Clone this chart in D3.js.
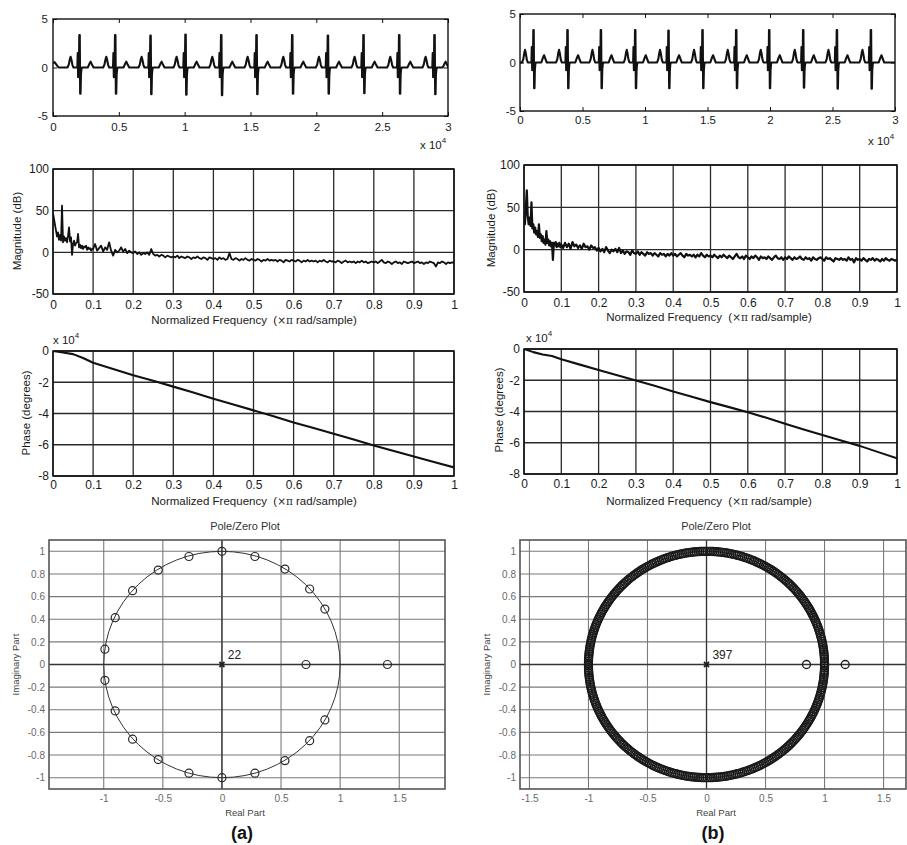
<!DOCTYPE html>
<html><head><meta charset="utf-8">
<script src="https://cdn.jsdelivr.net/npm/d3@7"></script>
<style>
body{margin:0;background:#fff}
svg{display:block}
text{font-family:"Liberation Sans",Arial,Helvetica,sans-serif;fill:#1a1a1a}
</style>
</head><body>
<svg id="c" width="907" height="845"></svg>
<script>
// ---------------- DATA ----------------
// ECG beat template (sample offsets from R peak) and template values; 'R' / 'S' are per-beat peak / trough
const beatOffsets = [-900,-800,-720,-660,-600,-520,-440,-150,-120,-90,-60,-30,0,35,65,95,125,160,200,640,760,860,960,1080];
const beatValsA  = [0,0.3,0.85,1.1,0.8,0.25,0, 0,1.5,-1.0,-0.4,-0.1,'R','R','S','S',-0.7,-0.2,0, 0,0.35,0.6,0.3,0];
const beatValsB  = [0,0.35,1.0,1.3,0.95,0.3,0, 0,1.6,-0.8,-0.3,-0.6,'R','R','S','S',-0.8,-0.2,0, 0,0.45,0.75,0.4,0];
const rPosA = [1998,4709,7390,10048,12759,15441,18152,20863,23567,26278,28959];
const rAmpA = [3.35,3.35,3.3,3.4,3.35,3.35,3.35,3.3,3.35,3.35,3.35];
const sAmpA = [-2.7,-2.7,-2.75,-2.8,-2.85,-2.75,-2.7,-2.7,-2.65,-2.7,-2.75];
const leadA = [[0,0.45],[120,0.55],[260,0.3],[420,0]];
const tailA = [];
const rPosB = [1064,3784,6456,9200,11864,14584,17280,19920,22640,25336,28056];
const rAmpB = [3.35,3.35,3.35,3.35,3.3,3.35,3.35,3.35,3.35,3.35,3.35];
const sAmpB = [-2.65,-2.65,-2.65,-2.65,-2.65,-2.65,-2.65,-2.65,-2.6,-2.7,-2.7];
const leadB = [[0,0]];
const tailB = [[30000,0]];

// Magnitude (dB): low band 0..0.0975 step 0.0025, high band 0.1..1 step 0.005
const magLowStep = 0.0025, magHighStart = 0.1, magHighStep = 0.005;
const magLowA = [47,40,33,26,19,24,15,21,14,56,12,19,14,17,12,20,30,13,18,-3,10,14,8,11,12,22,6,9,5,8,4,7,6,8,3,6,4,5,2,4];
const magHighA = [
 4,10,2,5,8,1,6,3,12,2,
 -4,3,0,2,6,1,4,-1,2,0,
 -1,1,-2,0,-3,-1,-2,0,-3,4,
 -2,-4,-3,-5,-3,-4,-6,-4,-5,-6,
 -5,-6,-4,-7,-5,-6,-7,-5,-6,-8,
 -6,-7,-5,-7,-8,-6,-7,-9,-6,-7,
 -8,-7,-9,-6,-8,-7,-9,-8,-1,-8,
 -9,-7,-8,-10,-8,-9,-7,-9,-10,-8,
 -9,-10,-8,-9,-11,-9,-10,-8,-10,-9,
 -10,-9,-11,-9,-10,-12,-9,-10,-11,-9,
 -10,-11,-9,-10,-12,-10,-11,-9,-11,-10,
 -11,-10,-12,-10,-11,-9,-11,-12,-10,-11,
 -11,-12,-10,-11,-13,-11,-10,-12,-11,-12,
 -11,-13,-11,-12,-10,-12,-11,-13,-12,-11,
 -12,-11,-13,-11,-9,-12,-13,-11,-12,-14,
 -12,-11,-13,-12,-14,-11,-12,-13,-12,-11,
 -13,-12,-11,-13,-12,-14,-12,-13,-11,-12,
 -13,-17,-12,-13,-11,-12,-14,-12,-13,-12,
 -12.5];
const magLowB = [35,30,50,70,40,30,38,28,56,25,30,20,26,18,22,15,30,14,18,10,16,8,12,6,22,8,12,5,10,4,8,-12,8,5,9,3,7,4,8,3];
const magHighB = [
 6,2,8,3,7,1,9,4,6,2,
 5,1,7,3,4,0,5,2,3,-1,
 2,-2,1,-3,3,-1,-4,0,-2,1,
 -3,2,-4,-1,-5,-2,-3,-6,-1,-4,
 -5,-2,-6,-3,-5,-7,-3,-5,-4,-7,
 -4,-6,-8,-4,-6,-5,-8,-5,-7,-4,
 -7,-5,-8,-6,-4,-7,-9,-5,-7,-6,
 -8,-6,-9,-6,-8,-4,-7,-9,-6,-8,
 -7,-9,-6,-8,-10,-7,-9,-6,-8,-10,
 -7,-9,-11,-8,-5,-9,-10,-8,-11,-7,
 -9,-11,-8,-10,-7,-9,-12,-8,-10,-9,
 -11,-8,-10,-12,-9,-7,-10,-11,-9,-12,
 -9,-11,-8,-10,-12,-9,-11,-10,-8,-11,
 -12,-9,-11,-10,-13,-9,-11,-12,-10,-9,
 -11,-13,-9,-11,-10,-12,-14,-10,-11,-12,
 -10,-12,-11,-13,-9,-12,-11,-15,-10,-12,
 -11,-13,-10,-12,-14,-11,-12,-10,-13,-11,
 -12,-14,-11,-13,-10,-12,-13,-11,-12,-13,
 -11.5];

// Phase (degrees)
const phaseFreq = [0,0.025,0.05,0.075,0.1,0.15,0.2,0.25,0.3,0.35,0.4,0.45,0.5,0.55,0.6,0.65,0.7,0.75,0.8,0.85,0.9,0.95,1.0];
const phaseA = [0,-1000,-2000,-4500,-7500,-11500,-15500,-19000,-22800,-26500,-30500,-34200,-38000,-41800,-45700,-49300,-53000,-56700,-60500,-64000,-67500,-71000,-74500];
const phaseB = [0,-2000,-3500,-4500,-6500,-10000,-13500,-16800,-20200,-23500,-27200,-30500,-34000,-37200,-40500,-44000,-47800,-51500,-55000,-58500,-62000,-66000,-70000];

// Pole/zero (a): zeros [re, im]
const zerosA = [[0,1],[0.279,0.954],[0.533,0.843],[0.742,0.667],[0.871,0.49],
 [-0.279,0.954],[-0.539,0.834],[-0.756,0.652],[-0.903,0.414],[-0.99,0.135],
 [-0.99,-0.14],[-0.903,-0.41],[-0.756,-0.66],[-0.539,-0.84],[-0.279,-0.96],
 [0,-1],[0.279,-0.96],[0.533,-0.85],[0.742,-0.673],[0.871,-0.49],
 [0.711,0],[1.40,0]];
const polesA = 22;
// Pole/zero (b): upper-half angles (deg) of conjugate zero pairs on the unit circle + real zeros
const zeroAnglesB = [
 0.4,0.9,1.8,2.8,3.7,4.5,5.4,6.4,7.2,8.1,9.1,
 10.0,10.9,11.8,12.8,13.7,14.5,15.5,16.4,17.3,18.2,
 19.1,20.1,21.0,21.8,22.8,23.7,24.6,25.5,26.4,27.3,
 28.3,29.2,30.0,31.0,31.9,32.8,33.7,34.6,35.6,36.5,
 37.4,38.3,39.2,40.1,41.0,42.0,42.9,43.8,44.7,45.6,
 46.5,47.5,48.4,49.3,50.2,51.1,52.0,52.9,53.9,54.8,
 55.7,56.6,57.5,58.4,59.4,60.3,61.2,62.1,63.0,63.9,
 64.8,65.8,66.7,67.6,68.5,69.4,70.3,71.3,72.2,73.1,
 74.0,74.9,75.8,76.7,77.7,78.6,79.5,80.4,81.3,82.2,
 83.2,84.1,85.0,85.9,86.8,87.7,88.6,89.6,90.5,91.4,
 92.3,93.2,94.1,95.1,96.0,96.9,97.8,98.7,99.6,100.5,
 101.5,102.4,103.3,104.2,105.1,106.0,107.0,107.9,108.8,109.7,
 110.6,111.5,112.4,113.4,114.3,115.2,116.1,117.0,117.9,118.9,
 119.8,120.7,121.6,122.5,123.4,124.3,125.3,126.2,127.1,128.0,
 128.9,129.8,130.8,131.7,132.6,133.5,134.4,135.3,136.2,137.2,
 138.1,139.0,139.9,140.8,141.7,142.7,143.6,144.5,145.4,146.3,
 147.2,148.1,149.1,150.0,150.9,151.8,152.7,153.6,154.6,155.5,
 156.4,157.3,158.2,159.1,160.0,161.0,161.9,162.8,163.7,164.6,
 165.5,166.5,167.4,168.3,169.2,170.1,171.0,171.9,172.9,173.8,
 174.7,175.6,176.5,177.4,178.4,179.3];
const realZerosB = [0.847,1.175,-1.0];
const polesB = 397;

// Ticks
const ecgTicksX = [0,5000,10000,15000,20000,25000,30000];
const ecgTicksY = [-5,0,5];
const freqTicksX = [0,0.1,0.2,0.3,0.4,0.5,0.6,0.7,0.8,0.9,1];
const magTicksY = [-50,0,50,100];
const phaseTicksY = [-80000,-60000,-40000,-20000,0];
const pzTicksY = [-1,-0.8,-0.6,-0.4,-0.2,0,0.2,0.4,0.6,0.8,1];
const pzTicksXA = [-1,-0.5,0,0.5,1,1.5];
const pzTicksXB = [-1.5,-1,-0.5,0,0.5,1,1.5];

// ---------------- DRAW ----------------
const svg = d3.select('#c');
const num = v => String(+(+v).toFixed(6));
let clipN = 0;

function clip(box){
  const id = 'clip' + (clipN++);
  svg.append('clipPath').attr('id', id).append('rect')
    .attr('x', box.x0).attr('y', box.y0).attr('width', box.x1-box.x0).attr('height', box.y1-box.y0);
  return 'url(#' + id + ')';
}

function labelsAxes(g, x, y, box, xt, yt, xf, yf, fs, padX, padY, col){
  const ax = g.append('g').attr('transform', `translate(0,${box.y1})`)
    .call(d3.axisBottom(x).tickValues(xt).tickFormat(xf).tickSize(0).tickPadding(padX));
  const ay = g.append('g').attr('transform', `translate(${box.x0},0)`)
    .call(d3.axisLeft(y).tickValues(yt).tickFormat(yf).tickSize(0).tickPadding(padY));
  [ax, ay].forEach(a => {
    a.select('.domain').remove();
    a.selectAll('text').attr('font-size', fs).style('fill', col || '#1a1a1a')
      .attr('font-family', '"Liberation Sans",Arial,sans-serif');
  });
}

function innerTicks(g, x, y, box, xt, yt){
  const mk = (axis, tr) => {
    const a = g.append('g').attr('transform', tr).call(axis);
    a.select('.domain').remove();
    a.selectAll('line').attr('stroke', '#111').attr('stroke-width', 1);
  };
  mk(d3.axisTop(x).tickValues(xt).tickSize(4).tickFormat(''), `translate(0,${box.y1})`);
  mk(d3.axisBottom(x).tickValues(xt).tickSize(4).tickFormat(''), `translate(0,${box.y0})`);
  mk(d3.axisRight(y).tickValues(yt).tickSize(4).tickFormat(''), `translate(${box.x0},0)`);
  mk(d3.axisLeft(y).tickValues(yt).tickSize(4).tickFormat(''), `translate(${box.x1},0)`);
}

function frame(g, box, col, w){
  g.append('rect').attr('x', box.x0).attr('y', box.y0)
    .attr('width', box.x1-box.x0).attr('height', box.y1-box.y0)
    .attr('fill', 'none').attr('stroke', col).attr('stroke-width', w);
}

function expo(g, x, y){
  const t = g.append('text').attr('x', x).attr('y', y).attr('font-size', 11.5);
  t.append('tspan').text('x 10');
  t.append('tspan').attr('font-size', 8).attr('dy', -6).text('4');
}

function ecgPanel(box, lead, tail, vals, rPos, rAmp, sAmp, expoPos, padX, padY){
  const g = svg.append('g');
  const x = d3.scaleLinear().domain([0,30000]).range([box.x0, box.x1]);
  const y = d3.scaleLinear().domain([-5,5]).range([box.y1, box.y0]);
  let pts = lead.slice();
  rPos.forEach((r,i) => beatOffsets.forEach((o,j) => {
    let v = vals[j];
    if (v === 'R') v = rAmp[i]; else if (v === 'S') v = sAmp[i];
    pts.push([r+o, v]);
  }));
  pts = pts.concat(tail);
  g.append('path').attr('clip-path', clip(box))
    .attr('d', d3.line().x(d => x(d[0])).y(d => y(d[1]))(pts))
    .attr('fill', 'none').attr('stroke', '#111').attr('stroke-width', 2.1).attr('stroke-linejoin', 'round');
  innerTicks(g, x, y, box, ecgTicksX, ecgTicksY);
  frame(g, box, '#111', 1.4);
  labelsAxes(g, x, y, box, ecgTicksX, ecgTicksY, d => num(d/10000), d => num(d), 11.5, padX, padY);
  expo(g, expoPos[0], expoPos[1]);
}

function freqPanel(box, yDom, yTicks, yFmt, pts, ylabel, ylabPos, xlabPos, padX, padY, lw, expoPos){
  const g = svg.append('g');
  const x = d3.scaleLinear().domain([0,1]).range([box.x0, box.x1]);
  const y = d3.scaleLinear().domain(yDom).range([box.y1, box.y0]);
  g.append('g').selectAll('line').data(freqTicksX).join('line')
    .attr('x1', d => x(d)).attr('x2', d => x(d)).attr('y1', box.y0).attr('y2', box.y1)
    .attr('stroke', '#2a2a2a').attr('stroke-width', 1.3);
  g.append('g').selectAll('line').data(yTicks).join('line')
    .attr('y1', d => y(d)).attr('y2', d => y(d)).attr('x1', box.x0).attr('x2', box.x1)
    .attr('stroke', '#2a2a2a').attr('stroke-width', 1.3);
  g.append('path').attr('clip-path', clip(box))
    .attr('d', d3.line().x(d => x(d[0])).y(d => y(d[1]))(pts))
    .attr('fill', 'none').attr('stroke', '#111').attr('stroke-width', lw).attr('stroke-linejoin', 'round');
  frame(g, box, '#111', 1.5);
  labelsAxes(g, x, y, box, freqTicksX, yTicks, d => num(d), yFmt, 12, padX, padY);
  g.append('text').attr('transform', `translate(${ylabPos[0]},${ylabPos[1]}) rotate(-90)`)
    .attr('text-anchor', 'middle').attr('dominant-baseline', 'central').attr('font-size', 11.5).text(ylabel);
  const xl = g.append('text').attr('x', xlabPos[0]).attr('y', xlabPos[1]).attr('text-anchor', 'middle')
    .attr('dominant-baseline', 'central').attr('font-size', 11.5).style('white-space', 'pre');
  xl.append('tspan').text('Normalized Frequency  (');
  xl.append('tspan').attr('font-family', '"DejaVu Serif",serif').attr('font-size', 10.5).text('×π');
  xl.append('tspan').text(' rad/sample)');
  if (expoPos) expo(g, expoPos[0], expoPos[1]);
}

function pzPanel(box, xDom, xTicks, zeros, poles, center, countPos, letter, zCol, zW){
  const g = svg.append('g');
  const x = d3.scaleLinear().domain(xDom).range([box.x0, box.x1]);
  const y = d3.scaleLinear().domain([-1.1,1.1]).range([box.y1, box.y0]);
  g.append('g').selectAll('line').data(xTicks).join('line')
    .attr('x1', d => x(d)).attr('x2', d => x(d)).attr('y1', box.y0).attr('y2', box.y1)
    .attr('stroke', '#7a7a7a').attr('stroke-width', 1.1);
  g.append('g').selectAll('line').data(pzTicksY).join('line')
    .attr('y1', d => y(d)).attr('y2', d => y(d)).attr('x1', box.x0).attr('x2', box.x1)
    .attr('stroke', '#7a7a7a').attr('stroke-width', 1.1);
  // real / imaginary axes
  g.append('line').attr('x1', box.x0).attr('x2', box.x1).attr('y1', y(0)).attr('y2', y(0))
    .attr('stroke', '#333').attr('stroke-width', 1.3);
  g.append('line').attr('x1', x(0)).attr('x2', x(0)).attr('y1', box.y0).attr('y2', box.y1)
    .attr('stroke', '#333').attr('stroke-width', 1.3);
  // unit circle
  g.append('ellipse').attr('cx', x(0)).attr('cy', y(0))
    .attr('rx', x(1) - x(0)).attr('ry', y(0) - y(1))
    .attr('fill', 'none').attr('stroke', '#333').attr('stroke-width', 1);
  frame(g, box, '#555', 1.6);
  g.append('g').selectAll('circle').data(zeros).join('circle')
    .attr('cx', d => x(d[0])).attr('cy', d => y(d[1])).attr('r', 4)
    .attr('fill', 'none').attr('stroke', zCol).attr('stroke-width', zW);
  // pole marker (x) at origin
  const px = x(0), py = y(0);
  g.append('path').attr('d', `M${px-2.5},${py-2.5}L${px+2.5},${py+2.5}M${px-2.5},${py+2.5}L${px+2.5},${py-2.5}`)
    .attr('stroke', '#222').attr('stroke-width', 1.8);
  g.append('text').attr('x', x(countPos[0])).attr('y', y(countPos[1])).attr('font-size', 12).style('fill', '#222').text(poles);
  labelsAxes(g, x, y, box, xTicks, pzTicksY, d => num(d), d => num(d), 10, 6, 4, '#6a6a6a');
  g.append('text').attr('x', center).attr('y', 526).attr('text-anchor', 'middle').attr('dominant-baseline', 'central')
    .attr('font-size', 11).style('fill', '#333').text('Pole/Zero Plot');
  g.append('text').attr('x', center).attr('y', 812).attr('text-anchor', 'middle').attr('dominant-baseline', 'central')
    .attr('font-size', 9.5).style('fill', '#444').text('Real Part');
  g.append('text').attr('transform', `translate(${box.x0 - 34},${y(0)}) rotate(-90)`)
    .attr('text-anchor', 'middle').attr('dominant-baseline', 'central').attr('font-size', 9.5).style('fill', '#444').text('Imaginary Part');
  g.append('text').attr('x', center - 3).attr('y', 833).attr('text-anchor', 'middle').attr('dominant-baseline', 'central')
    .attr('font-size', 18).attr('font-weight', 'bold').style('fill', '#111').text(letter);
}

// ECG panels
ecgPanel({x0:53, x1:448, y0:19, y1:116}, leadA, tailA, beatValsA, rPosA, rAmpA, sAmpA, [420,149], 7, 5);
ecgPanel({x0:520, x1:895, y0:14, y1:111}, leadB, tailB, beatValsB, rPosB, rAmpB, sAmpB, [868,145], 5, 4);

// Magnitude panels
const magPts = (low, high) => low.map((v,i) => [i*magLowStep, v]).concat(high.map((v,i) => [magHighStart + i*magHighStep, v]));
freqPanel({x0:53, x1:454, y0:169, y1:294}, [-50,100], magTicksY, d => num(d), magPts(magLowA, magHighA),
  'Magnitude (dB)', [17,231], [254,320], 6, 4, 1.8, null);
freqPanel({x0:524, x1:897, y0:165, y1:292}, [-50,100], magTicksY, d => num(d), magPts(magLowB, magHighB),
  'Magnitude (dB)', [491,228], [709,317], 6, 4, 2.2, null);

// Phase panels
freqPanel({x0:53, x1:454, y0:351, y1:476}, [-80000,0], phaseTicksY, d => num(d/10000), phaseFreq.map((f,i) => [f, phaseA[i]]),
  'Phase (degrees)', [26,413], [254,501], 4, 4, 2.1, [53,344]);
freqPanel({x0:524, x1:897, y0:349, y1:474}, [-80000,0], phaseTicksY, d => num(d/10000), phaseFreq.map((f,i) => [f, phaseB[i]]),
  'Phase (degrees)', [499,410], [709,501], 5, 4, 2.1, [526,342]);

// Pole/zero panels
pzPanel({x0:49, x1:445, y0:540, y1:789}, [-1.463,1.887], pzTicksXA, zerosA, polesA, 245, [0.05,0.05], '(a)', '#2a2a2a', 1.2);
const zerosB = [];
zeroAnglesB.forEach(a => { const t = a*Math.PI/180; zerosB.push([Math.cos(t), Math.sin(t)], [Math.cos(t), -Math.sin(t)]); });
realZerosB.forEach(r => zerosB.push([r, 0]));
pzPanel({x0:520, x1:906, y0:540, y1:789}, [-1.58,1.69], pzTicksXB, zerosB, polesB, 716, [0.05,0.05], '(b)', '#1a1a1a', 1.3);
</script>
</body></html>
